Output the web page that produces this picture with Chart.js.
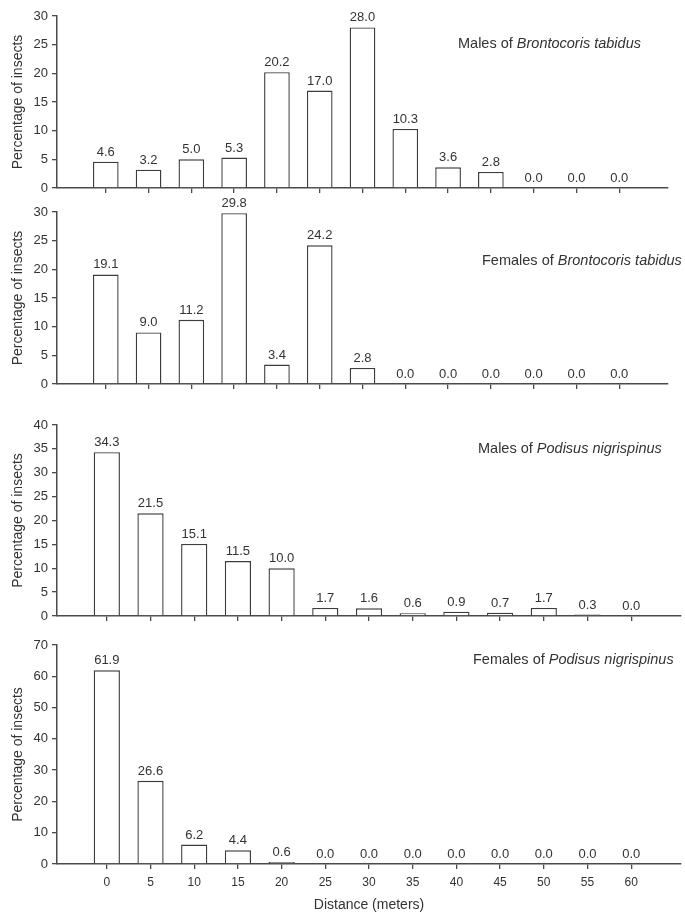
<!DOCTYPE html>
<html><head><meta charset="utf-8">
<script src="https://cdn.jsdelivr.net/npm/chart.js@4.4.1/dist/chart.umd.min.js"></script>
<style>
html,body{margin:0;padding:0;background:#fff;}
#wrap{position:relative;width:685px;height:916px;overflow:hidden;background:#fff;}
#wrap canvas{position:absolute;left:0;}
</style></head><body>
<div id="wrap">
<canvas id="c1" width="685" height="200" style="top:0px"></canvas>
<canvas id="c2" width="685" height="200" style="top:196px"></canvas>
<canvas id="c3" width="685" height="219" style="top:409px"></canvas>
<canvas id="c4" width="685" height="287" style="top:629px"></canvas>
</div>
<script>
// ---- data ----
const distances = [0, 5, 10, 15, 20, 25, 30, 35, 40, 45, 50, 55, 60];
const xTickLabels = ['0', '5', '10', '15', '20', '25', '30', '35', '40', '45', '50', '55', '60'];
const malesBrontocoris   = [4.6, 3.2, 5.0, 5.3, 20.2, 17.0, 28.0, 10.3, 3.6, 2.8, 0.0, 0.0, 0.0];
const femalesBrontocoris = [19.1, 9.0, 11.2, 29.8, 3.4, 24.2, 2.8, 0.0, 0.0, 0.0, 0.0, 0.0, 0.0];
const malesPodisus       = [34.3, 21.5, 15.1, 11.5, 10.0, 1.7, 1.6, 0.6, 0.9, 0.7, 1.7, 0.3, 0.0];
const femalesPodisus     = [61.9, 26.6, 6.2, 4.4, 0.6, 0.0, 0.0, 0.0, 0.0, 0.0, 0.0, 0.0, 0.0];
const yMaxes = [30, 30, 40, 70];
const ySteps = [5, 5, 5, 10];
const panelPlain  = ['Males of ', 'Females of ', 'Males of ', 'Females of '];
const panelItalic = ['Brontocoris tabidus', 'Brontocoris tabidus', 'Podisus nigrispinus', 'Podisus nigrispinus'];
const yAxisTitle = 'Percentage of insects';
const xAxisTitle = 'Distance (meters)';

// ---- styles ----
const FAMILY = '"Liberation Sans", Arial, Helvetica, sans-serif';
const TEXT = '#333333';
const AXIS = '#4a4a4a';
const BAR = '#3c3c3c';

const valueLabels = {
  id: 'valueLabels',
  afterDatasetsDraw(chart) {
    const ctx = chart.ctx;
    const meta = chart.getDatasetMeta(0);
    const data = chart.data.datasets[0].data;
    ctx.save();
    ctx.font = '13px ' + FAMILY;
    ctx.fillStyle = TEXT;
    ctx.textAlign = 'center';
    ctx.textBaseline = 'alphabetic';
    meta.data.forEach((el, i) => {
      ctx.fillText(data[i].y.toFixed(1), el.x, el.y - 6);
    });
    ctx.restore();
  }
};

const panelTitle = {
  id: 'panelTitle',
  afterDraw(chart, args, opts) {
    const ctx = chart.ctx;
    ctx.save();
    ctx.fillStyle = TEXT;
    ctx.textBaseline = 'middle';
    ctx.textAlign = 'left';
    ctx.font = '14.5px ' + FAMILY;
    const w = ctx.measureText(opts.plain).width;
    ctx.fillText(opts.plain, opts.x, opts.y);
    ctx.font = 'italic 14.5px ' + FAMILY;
    ctx.fillText(opts.italic, opts.x + w, opts.y);
    ctx.restore();
  }
};

function makeChart(id, values, idx, layout) {
  const showX = !!layout.showX;
  return new Chart(document.getElementById(id), {
    type: 'bar',
    data: {
      datasets: [{
        data: distances.map((d, i) => ({ x: d, y: values[i] })),
        backgroundColor: '#ffffff',
        borderColor: BAR,
        borderWidth: 1.4,
        categoryPercentage: 1,
        barPercentage: 0.6
      }]
    },
    options: {
      responsive: false,
      maintainAspectRatio: false,
      devicePixelRatio: 1,
      animation: false,
      events: [],
      layout: { padding: layout.padding },
      plugins: {
        legend: { display: false },
        tooltip: { enabled: false },
        panelTitle: { plain: panelPlain[idx], italic: panelItalic[idx], x: layout.tx, y: layout.ty }
      },
      scales: {
        x: {
          type: 'linear',
          min: -5.7,
          max: 65.7,
          offset: false,
          afterBuildTicks: (s) => { s.ticks = distances.map(v => ({ value: v })); },
          afterFit: (s) => { s.height = showX ? 52 : 8; },
          grid: { display: true, drawOnChartArea: false, drawTicks: true, tickLength: 5, color: AXIS, tickColor: AXIS, lineWidth: 1.3, offset: false },
          border: { display: true, color: AXIS, width: 1.5 },
          ticks: {
            display: showX, autoSkip: false, maxRotation: 0, minRotation: 0,
            font: { size: 12, family: FAMILY }, color: TEXT, padding: 6,
            callback: (v, i) => xTickLabels[i]
          },
          title: { display: showX, text: xAxisTitle, font: { size: 14, family: FAMILY }, color: TEXT, padding: { top: 0, bottom: 2 } }
        },
        y: {
          min: 0,
          max: yMaxes[idx],
          afterFit: (s) => { s.width = 57; },
          grid: { display: true, drawOnChartArea: false, drawTicks: true, tickLength: 5, color: AXIS, tickColor: AXIS, lineWidth: 1.3 },
          border: { display: true, color: AXIS, width: 1.5 },
          ticks: { stepSize: ySteps[idx], font: { size: 13, family: FAMILY }, color: TEXT, padding: 4 },
          title: { display: true, text: yAxisTitle, font: { size: 14, family: FAMILY }, color: TEXT, padding: { top: 10, bottom: 0 } }
        }
      }
    },
    plugins: [valueLabels, panelTitle]
  });
}

makeChart('c1', malesBrontocoris, 0, { padding: { top: 16, right: 17, bottom: 4, left: 0 }, tx: 458, ty: 44 });
makeChart('c2', femalesBrontocoris, 1, { padding: { top: 16, right: 17, bottom: 4, left: 0 }, tx: 482, ty: 65 });
makeChart('c3', malesPodisus, 2, { padding: { top: 16, right: 4, bottom: 4, left: 0 }, tx: 478, ty: 40 });
makeChart('c4', femalesPodisus, 3, { padding: { top: 16, right: 4, bottom: 0, left: 0 }, tx: 473, ty: 31, showX: true });
</script>
</body></html>
